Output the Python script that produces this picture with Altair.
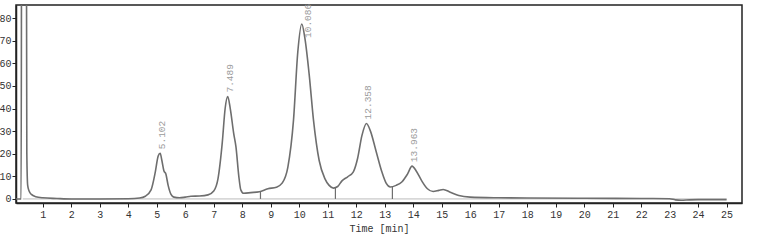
import altair as alt
import pandas as pd

# Chromatogram trace
time_min = [0.06, 0.24, 0.26, 0.42, 0.44, 0.47, 0.52, 0.6, 0.75, 1.0, 1.5, 2.0, 3.0, 4.0, 4.4, 4.6,
            4.8, 4.95, 5.05, 5.12, 5.18, 5.25, 5.32, 5.4, 5.5, 5.6, 5.8, 6.0, 6.2, 6.5, 6.8, 7.0,
            7.15, 7.3, 7.4, 7.49, 7.58, 7.7, 7.78, 7.88, 7.95, 8.05, 8.3, 8.6, 8.9, 9.2, 9.4, 9.6,
            9.8, 9.95, 10.09, 10.2, 10.35, 10.5, 10.7, 10.9, 11.05, 11.2, 11.35, 11.5, 11.7, 11.9,
            12.05, 12.2, 12.36, 12.5, 12.7, 12.9, 13.05, 13.2, 13.4, 13.6, 13.8, 13.96, 14.1, 14.3,
            14.5, 14.7, 14.9, 15.05, 15.3, 15.6, 16.0, 17.0, 18.0, 20.0, 22.0, 23.0, 23.2, 23.4,
            23.7, 24.0, 25.0]
signal = [0.0, 0.0, 150, 150, 20, 6, 3.5, 2, 1, 0.5, 0.2, 0.0, 0.0, 0.1, 0.4, 1.2,
          4, 12, 19, 20.2, 17, 12.5, 11, 6, 2, 0.8, 0.5, 0.8, 1.2, 1.3, 1.8, 3.5,
          9, 25, 40, 45.3, 40, 29, 23, 10, 4, 2.5, 2.8, 3.2, 4.5, 5.2, 7, 14,
          35, 65, 77.4, 71, 55, 35, 17, 9, 6, 4.8, 5.5, 8, 9.8, 12,
          18, 28, 33.4, 30, 21, 12, 7, 5.3, 6, 7.5, 11, 14.5, 12.5, 8,
          4.5, 3.3, 3.8, 4.2, 3, 1.5, 0.8, 0.5, 0.4, 0.3, 0.2, 0.1, -0.4, -0.6,
          -0.4, -0.3, -0.3]

# Peak annotations
peak_times = [5.102, 7.489, 12.358, 13.963]
peak_heights = [20.2, 45.3, 33.4, 14.5]
top_peak_time = [10.086]
top_peak_height = [77.4]

# Integration drop lines
drop_times = [8.64, 11.27, 13.27]
drop_heights = [3.2, 5.0, 5.4]

x_ticks = list(range(1, 26))
y_ticks = list(range(0, 81, 10))

trace = pd.DataFrame({"t": time_min, "v": signal})
peaks = pd.DataFrame({"t": peak_times, "v": peak_heights})
peaks["label"] = peaks["t"].map(lambda x: f"{x:.3f}")
top = pd.DataFrame({"t": top_peak_time, "v": top_peak_height})
top["label"] = top["t"].map(lambda x: f"{x:.3f}")
drops = pd.DataFrame({"t": drop_times, "v": drop_heights, "z": [0] * len(drop_times)})
base = pd.DataFrame({"t": [0.3], "t2": [25.0], "v": [0]})

FONT = "Liberation Mono"
xs = alt.Scale(domain=[0.06, 25.54], nice=False, zero=False)
ys = alt.Scale(domain=[-1.8, 85.8], nice=False, zero=False)

axis_style = dict(grid=False, tickSize=4, labelOverlap=False, labelFlush=False,
                  labelBound=False, labelSeparation=0, labelFont=FONT, labelFontSize=10,
                  labelColor="#333", domainColor="#222", tickColor="#222", domainWidth=1.5)
xaxis = alt.Axis(values=x_ticks, title="Time [min]", labelPadding=2, titlePadding=4,
                 titleFont=FONT, titleFontSize=10, titleFontWeight="normal",
                 titleColor="#333", **axis_style)
yaxis = alt.Axis(values=y_ticks, title=None, labelPadding=1, **axis_style)

X = alt.X("t:Q", scale=xs, axis=xaxis)
Y = alt.Y("v:Q", scale=ys, axis=yaxis)

line = alt.Chart(trace).mark_line(color="#6e6e6e", strokeWidth=1.6, clip=True,
                                  interpolate="monotone").encode(x=X, y=Y)

baseline = alt.Chart(base).mark_rule(color="#bbbbbb", strokeWidth=1).encode(
    x=X, x2="t2:Q", y=Y)

drop = alt.Chart(drops).mark_rule(color="#6e6e6e", strokeWidth=1.2).encode(
    x=X, y=alt.Y("z:Q", scale=ys, axis=yaxis), y2="v:Q")

labels = alt.Chart(peaks).mark_text(angle=270, align="left", baseline="middle",
                                    dx=4, dy=2, font=FONT, fontSize=9.5,
                                    color="#9a9a9a").encode(x=X, y=Y, text="label:N")

top_label = alt.Chart(top).mark_text(angle=270, align="left", baseline="middle",
                                     dx=-14, dy=6.5, font=FONT, fontSize=9.5,
                                     color="#9a9a9a").encode(x=X, y=Y, text="label:N")

chart = alt.layer(baseline, line, drop, labels, top_label).properties(
    width=726, height=198,
    padding={"left": 16, "top": 5, "right": 23, "bottom": 46},
    autosize=alt.AutoSizeParams(type="none"),
    background="white",
).configure_view(
    stroke="#222", strokeWidth=1.5
).configure_axis(
    labelOverlap=False, labelFlush=False, labelBound=False, labelSeparation=0,
)

chart.save("out.html", embed_options={"renderer": "svg", "actions": False})
